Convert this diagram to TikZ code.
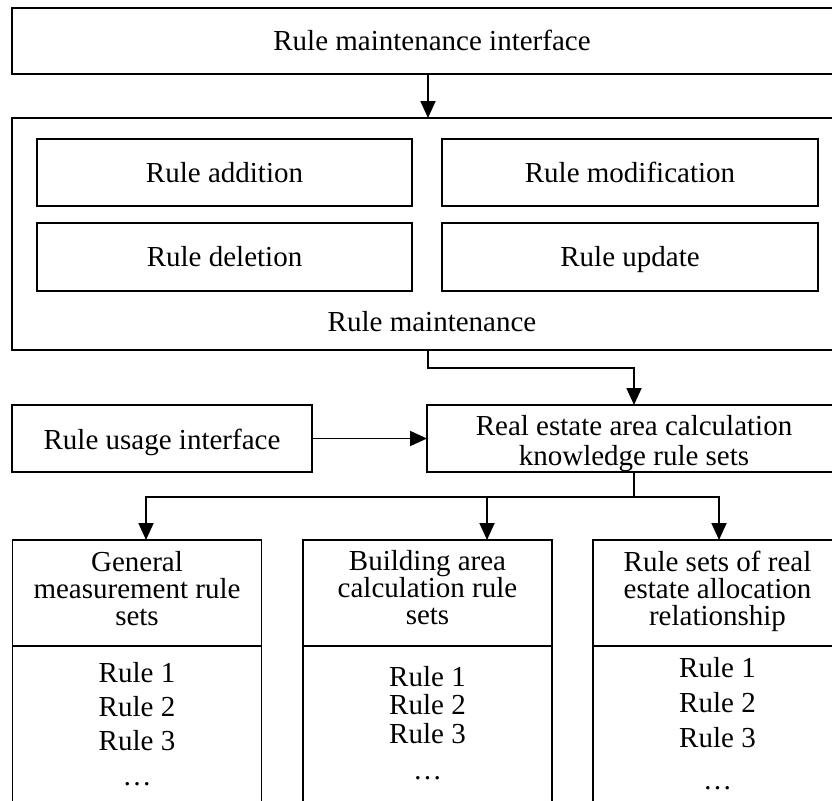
\documentclass[tikz,border=0pt]{standalone}
\usepackage{fontspec}
\setmainfont{Liberation Serif}
\usetikzlibrary{arrows.meta}
\begin{document}
\begin{tikzpicture}[x=1pt,y=-1pt,
  box/.style={draw, line width=1.8pt, inner sep=0pt, outer sep=0pt},
  lbl/.style={inner sep=0pt, font=\fontsize{29}{30}\selectfont, anchor=base},
  link/.style={line width=1.8pt},
  arr/.style={link, -{Triangle[length=17pt,width=15pt]}}]
\useasboundingbox (0,0) rectangle (832,800);
\clip (0,0) rectangle (832,800);

% helper coordinates for connector routing
\coordinate (spine) at (428,0);
\coordinate (bus) at (0,497);
\coordinate (ga) at (146,540);
\coordinate (gb) at (487,540);
\coordinate (gc) at (719,540);

% maintenance interface
\node[box, minimum width=840pt, minimum height=66pt] (mif) at (432,41) {};
\node[lbl] (mift) at (432,50.5) {Rule maintenance interface};

% rule maintenance block
\node[box, minimum width=840pt, minimum height=232pt] (rm) at (432,234) {};
\node[box, minimum width=375pt, minimum height=67pt] (radd) at (224.5,172.5) {};
\node[box, minimum width=376pt, minimum height=67pt] (rmod) at (630,172.5) {};
\node[box, minimum width=375pt, minimum height=68pt] (rdel) at (224.5,257) {};
\node[box, minimum width=376pt, minimum height=68pt] (rupd) at (630,257) {};
\node[lbl] (raddt) at (224.5,182) {Rule addition};
\node[lbl] (rmodt) at (630,182) {Rule modification};
\node[lbl] (rdelt) at (224.5,266.5) {Rule deletion};
\node[lbl] (rupdt) at (630,266.5) {Rule update};
\node[lbl] (rmt) at (432,331.5) {Rule maintenance};

% usage interface and knowledge rule sets
\node[box, minimum width=300pt, minimum height=67pt] (ru) at (162,438.5) {};
\node[lbl] (rut) at (162,449) {Rule usage interface};
\node[box, minimum width=414pt, minimum height=67pt] (kr) at (634,438.5) {};
\node[lbl] (krt1) at (634,435) {Real estate area calculation};
\node[lbl] (krt2) at (634,465) {knowledge rule sets};

% rule set columns: header and body
\node[box, minimum width=249pt, minimum height=106pt] (hl) at (137,593) {};
\node[box, minimum width=249pt, minimum height=174pt] (bl) at (137,733) {};
\node[box, minimum width=249pt, minimum height=106pt] (hm) at (427.5,593) {};
\node[box, minimum width=249pt, minimum height=174pt] (bm) at (427.5,733) {};
\node[box, minimum width=249pt, minimum height=106pt] (hr) at (717.5,593) {};
\node[box, minimum width=249pt, minimum height=174pt] (br) at (717.5,733) {};

\node[lbl] (hl1) at (137,571) {General};
\node[lbl] (hl2) at (137,598) {measurement rule};
\node[lbl] (hl3) at (137,625) {sets};
\node[lbl] (hm1) at (427.5,570) {Building area};
\node[lbl] (hm2) at (427.5,597) {calculation rule};
\node[lbl] (hm3) at (427.5,624) {sets};
\node[lbl] (hr1) at (717.5,571) {Rule sets of real};
\node[lbl] (hr2) at (717.5,598) {estate allocation};
\node[lbl] (hr3) at (717.5,625) {relationship};

\node[lbl] (bl1) at (137,682.5) {Rule 1};
\node[lbl] (bl2) at (137,716.5) {Rule 2};
\node[lbl] (bl3) at (137,750.5) {Rule 3};
\node[lbl] (bl4) at (137,785) {…};
\node[lbl] (bm1) at (427.5,686.5) {Rule 1};
\node[lbl] (bm2) at (427.5,714.5) {Rule 2};
\node[lbl] (bm3) at (427.5,743.5) {Rule 3};
\node[lbl] (bm4) at (427.5,779) {…};
\node[lbl] (br1) at (717.5,677.5) {Rule 1};
\node[lbl] (br2) at (717.5,712.5) {Rule 2};
\node[lbl] (br3) at (717.5,747.5) {Rule 3};
\node[lbl] (br4) at (717.5,789) {…};

% connectors
\draw[arr] (mif.south -| spine) -- (rm.north -| spine);
\draw[arr] (rm.south -| spine) -- ++(0,18) -| (kr.north);
\draw[arr] (ru.east) -- (kr.west);
\draw[link] (kr.south) -- (kr.south |- bus);
\draw[arr] (kr.south |- bus) -| (ga);
\draw[arr] (kr.south |- bus) -| (gb);
\draw[arr] (kr.south |- bus) -| (gc);
\end{tikzpicture}
\end{document}
